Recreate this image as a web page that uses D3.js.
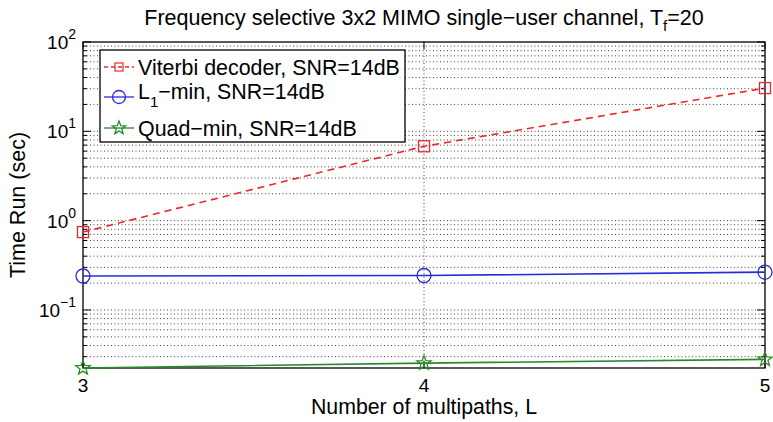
<!DOCTYPE html>
<html>
<head>
<meta charset="utf-8">
<script src="https://cdn.jsdelivr.net/npm/d3@7"></script>
<style>
  body { margin: 0; background: #fff; }
  text { font-family: "Liberation Sans", Arial, sans-serif; fill: #000; }
</style>
</head>
<body>
<div id="chart"></div>
<script>
// data
const multipaths = [3, 4, 5]
const viterbi = [0.745, 6.8, 30.5]
const l1min = [0.24, 0.243, 0.265]
const quadmin = [0.0224, 0.0254, 0.028]
const yTicks = [0.1, 1, 10, 100]
const xTicks = [3, 4, 5]

const width = 773, height = 422
const margin = { top: 42, right: 8, bottom: 54, left: 83 }
const iw = width - margin.left - margin.right
const ih = height - margin.top - margin.bottom

const svg = d3.select('#chart').append('svg')
  .attr('width', width)
  .attr('height', height)

const g = svg.append('g').attr('transform', `translate(${margin.left},${margin.top})`)

const x = d3.scaleLinear().domain([3, 5]).range([0, iw])
const y = d3.scaleLog().domain([0.0224, 100]).range([ih, 0])

// minor + major grid (dotted)
const gridVals = []
for (let e = -2; e <= 1; e++) {
  for (let k = 1; k <= 9; k++) {
    const v = k * Math.pow(10, e)
    if (v > y.domain()[0] && v < 100) gridVals.push(v)
  }
}
g.append('g').selectAll('line')
  .data(gridVals)
  .enter().append('line')
  .attr('x1', 0).attr('x2', iw)
  .attr('y1', d => y(d)).attr('y2', d => y(d))
  .attr('stroke', '#444')
  .attr('stroke-width', 1)
  .attr('stroke-dasharray', '1,2.5')
g.append('g').selectAll('line')
  .data([4])
  .enter().append('line')
  .attr('x1', d => x(d)).attr('x2', d => x(d))
  .attr('y1', 0).attr('y2', ih)
  .attr('stroke', '#444')
  .attr('stroke-width', 1)
  .attr('stroke-dasharray', '1,2.5')

// ticks on both sides, pointing inward
const tickLen = (v) => (yTicks.includes(v) ? 8 : 4)
const allTicks = gridVals.concat([100])
g.append('g').selectAll('line')
  .data(allTicks)
  .enter().append('line')
  .attr('x1', 0).attr('x2', d => tickLen(d))
  .attr('y1', d => y(d)).attr('y2', d => y(d))
  .attr('stroke', '#000')
g.append('g').selectAll('line')
  .data(allTicks)
  .enter().append('line')
  .attr('x1', iw).attr('x2', d => iw - tickLen(d))
  .attr('y1', d => y(d)).attr('y2', d => y(d))
  .attr('stroke', '#000')
g.append('g').selectAll('line')
  .data(xTicks)
  .enter().append('line')
  .attr('x1', d => x(d)).attr('x2', d => x(d))
  .attr('y1', ih).attr('y2', ih - 7)
  .attr('stroke', '#000')
g.append('g').selectAll('line')
  .data(xTicks)
  .enter().append('line')
  .attr('x1', d => x(d)).attr('x2', d => x(d))
  .attr('y1', 0).attr('y2', 7)
  .attr('stroke', '#000')

// frame
g.append('rect')
  .attr('width', iw).attr('height', ih)
  .attr('fill', 'none')
  .attr('stroke', '#000')
  .attr('stroke-width', 1.3)

// y tick labels 10^n
const yl = g.append('g').selectAll('text')
  .data(yTicks)
  .enter().append('text')
  .attr('x', -7)
  .attr('y', d => y(d) + 7)
  .attr('text-anchor', 'end')
  .style('font-size', '19px')
yl.append('tspan').text('10')
yl.append('tspan')
  .attr('dy', -10)
  .style('font-size', '14px')
  .text(d => Math.round(Math.log10(d)) === -1 ? '\u22121' : Math.round(Math.log10(d)))

// x tick labels
g.append('g').selectAll('text')
  .data(xTicks)
  .enter().append('text')
  .attr('x', d => x(d))
  .attr('y', ih + 24)
  .attr('text-anchor', 'middle')
  .style('font-size', '19px')
  .text(d => d)

// series
const series = [
  { name: 'Viterbi', values: viterbi, color: '#e8282d', dash: '7,5', marker: 'square' },
  { name: 'L1', values: l1min, color: '#2b2bd6', dash: null, marker: 'circle' },
  { name: 'Quad', values: quadmin, color: '#2a8a2a', dash: null, marker: 'star' }
]

const line = d3.line()
  .x((d, i) => x(multipaths[i]))
  .y(d => y(d))

const starPath = (r) => {
  const pts = []
  for (let i = 0; i < 10; i++) {
    const a = -Math.PI / 2 + i * Math.PI / 5
    const rr = i % 2 === 0 ? r : r * 0.42
    pts.push([rr * Math.cos(a), rr * Math.sin(a)])
  }
  return 'M' + pts.map(p => p.join(',')).join('L') + 'Z'
}

function drawMarker(sel, s) {
  if (s.marker === 'square') {
    sel.append('rect')
      .attr('x', -5.5).attr('y', -5.5).attr('width', 11).attr('height', 11)
      .attr('fill', 'none').attr('stroke', s.color).attr('stroke-width', 1.3)
  } else if (s.marker === 'circle') {
    sel.append('circle')
      .attr('r', 7)
      .attr('fill', 'none').attr('stroke', s.color).attr('stroke-width', 1.3)
  } else {
    sel.append('path')
      .attr('d', starPath(7.5))
      .attr('fill', 'none').attr('stroke', s.color).attr('stroke-width', 1.3)
  }
}

series.forEach(s => {
  g.append('path')
    .datum(s.values)
    .attr('d', line)
    .attr('fill', 'none')
    .attr('stroke', s.color)
    .attr('stroke-width', 1.6)
    .attr('stroke-dasharray', s.dash)
  s.values.forEach((v, i) => {
    const m = g.append('g').attr('transform', `translate(${x(multipaths[i])},${y(v)})`)
    drawMarker(m, s)
  })
})

// legend
const legend = svg.append('g').attr('transform', 'translate(100,50)')
legend.append('rect')
  .attr('width', 305).attr('height', 92)
  .attr('fill', '#fff')
  .attr('stroke', '#000')
  .attr('stroke-width', 1.3)
const rowsY = [17, 47, 78]
series.forEach((s, i) => {
  const row = legend.append('g').attr('transform', `translate(0,${rowsY[i]})`)
  row.append('line')
    .attr('x1', 4).attr('x2', 34)
    .attr('stroke', s.color)
    .attr('stroke-width', 1.3)
    .attr('stroke-dasharray', s.dash ? '4,3' : null)
  const m = row.append('g').attr('transform', 'translate(19,0)')
  if (s.marker === 'square') {
    m.append('rect').attr('x', -4).attr('y', -4).attr('width', 8).attr('height', 8)
      .attr('fill', 'none').attr('stroke', s.color).attr('stroke-width', 1.2)
  } else if (s.marker === 'circle') {
    m.append('circle').attr('r', 6.5)
      .attr('fill', 'none').attr('stroke', s.color).attr('stroke-width', 1.3)
  } else {
    m.append('path').attr('d', starPath(7))
      .attr('fill', 'none').attr('stroke', s.color).attr('stroke-width', 1.3)
  }
})
const lt = legend.append('g').style('font-size', '21.4px')
lt.append('text').attr('x', 38).attr('y', rowsY[0] + 8).text('Viterbi decoder, SNR=14dB')
const l1 = lt.append('text').attr('x', 38).attr('y', rowsY[1] + 2)
l1.append('tspan').text('L')
l1.append('tspan').attr('dy', 8).style('font-size', '15px').text('1')
l1.append('tspan').attr('dy', -8).text('\u2212min, SNR=14dB')
lt.append('text').attr('x', 38).attr('y', rowsY[2] + 8).text('Quad\u2212min, SNR=14dB')

// title
const title = svg.append('text')
  .attr('x', margin.left + iw / 2)
  .attr('y', 25)
  .attr('text-anchor', 'middle')
  .style('font-size', '21.5px')
title.append('tspan').text('Frequency selective 3x2 MIMO single\u2212user channel, T')
title.append('tspan').attr('dy', 6).style('font-size', '15px').text('f')
title.append('tspan').attr('dy', -6).text('=20')

// axis labels
svg.append('text')
  .attr('x', margin.left + iw / 2)
  .attr('y', 414)
  .attr('text-anchor', 'middle')
  .style('font-size', '21.3px')
  .text('Number of multipaths, L')

svg.append('text')
  .attr('transform', `translate(25,${margin.top + ih / 2}) rotate(-90)`)
  .attr('text-anchor', 'middle')
  .style('font-size', '21.5px')
  .text('Time Run (sec)')
</script>
</body>
</html>
